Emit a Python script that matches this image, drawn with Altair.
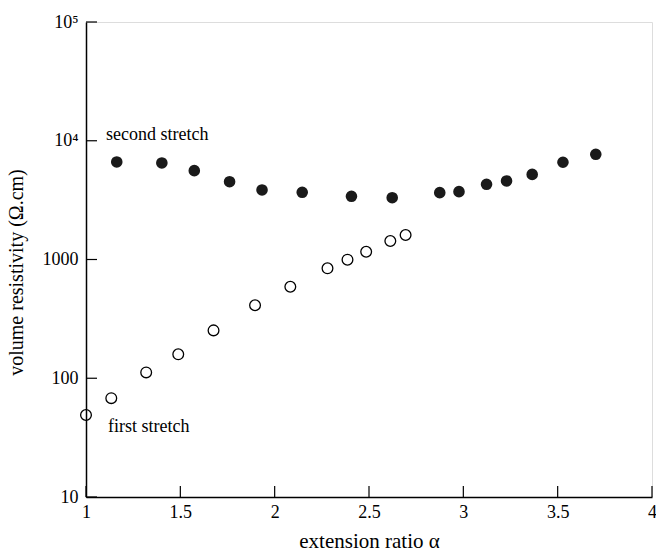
import altair as alt
import pandas as pd

# first stretch (open circles)
first_x = [1.0, 1.134, 1.319, 1.489, 1.676, 1.896, 2.083, 2.280, 2.386, 2.485, 2.613, 2.694]
first_y = [49, 68, 112, 159, 253, 412, 590, 843, 996, 1163, 1432, 1607]

# second stretch (filled circles)
second_x = [1.163, 1.402, 1.574, 1.761, 1.933, 2.146, 2.407, 2.623, 2.875, 2.977,
            3.123, 3.229, 3.365, 3.528, 3.702]
second_y = [6626, 6500, 5600, 4520, 3850, 3680, 3405, 3315, 3655, 3725,
            4300, 4585, 5210, 6590, 7690]

x_ticks = [1, 1.5, 2, 2.5, 3, 3.5, 4]
y_ticks = [10, 100, 1000, 10000, 100000]

label_text = ["second stretch", "first stretch"]
label_x = [1.106, 1.117]
label_y = [11190, 38.8]

FONT = "Liberation Serif"

first_df = pd.DataFrame({"x": first_x, "y": first_y})
second_df = pd.DataFrame({"x": second_x, "y": second_y})
labels_df = pd.DataFrame({"t": label_text, "x": label_x, "y": label_y})
xt_df = pd.DataFrame({"v": x_ticks})
yt_df = pd.DataFrame({"v": y_ticks})

xscale = alt.Scale(domain=[1, 4], nice=False, zero=False)
yscale = alt.Scale(type="log", domain=[10, 100000], nice=False)

xaxis = alt.Axis(
    title="extension ratio α", values=x_ticks, ticks=False, labelPadding=6,
    labelFlush=False, grid=False, labelFont=FONT, labelFontSize=18, format="~g",
    titleFont=FONT, titleFontSize=21, titleFontWeight="normal",
    titlePadding=9, domainColor="black", domainWidth=1.5, labelColor="black",
    titleColor="black",
)
yaxis = alt.Axis(
    title="volume resistivity (Ω.cm)", values=y_ticks, ticks=False, labelPadding=8,
    grid=False, labelFont=FONT, labelFontSize=18, titleFont=FONT, titleFontSize=20,
    titleFontWeight="normal", titlePadding=16, titleY=250, domainColor="black", domainWidth=1.5,
    labelColor="black", titleColor="black", labelFlush=False,
    labelExpr="datum.value == 10000 ? '10⁴' : datum.value == 100000 ? '10⁵' : format(datum.value, 'd')",
)

first = alt.Chart(first_df).mark_point(
    shape="circle", filled=False, color="black", size=115, strokeWidth=1.3, opacity=1
).encode(x=alt.X("x:Q", scale=xscale, axis=xaxis), y=alt.Y("y:Q", scale=yscale, axis=yaxis))

second = alt.Chart(second_df).mark_point(
    shape="circle", filled=True, color="#1a1a1a", size=135, opacity=1
).encode(x=alt.X("x:Q", scale=xscale), y=alt.Y("y:Q", scale=yscale))

labels = alt.Chart(labels_df).mark_text(
    align="left", baseline="middle", font=FONT, fontSize=18, color="black"
).encode(x=alt.X("x:Q", scale=xscale), y=alt.Y("y:Q", scale=yscale), text="t:N")

xticks = alt.Chart(xt_df).mark_rule(color="black", strokeWidth=1.2).encode(
    x=alt.X("v:Q", scale=xscale), y=alt.value(475), y2=alt.value(464)
)
yticks = alt.Chart(yt_df).mark_rule(color="black", strokeWidth=1.2).encode(
    y=alt.Y("v:Q", scale=yscale), x=alt.value(0), x2=alt.value(11)
)

chart = alt.layer(xticks, yticks, first, second, labels).properties(
    width=566, height=475,
    autosize=alt.AutoSizeParams(type="none"),
    padding={"left": 86, "top": 22, "right": 4, "bottom": 54},
).configure_view(stroke="black", strokeWidth=1.5).configure(background="white")

chart.save("out.html", embed_options={"renderer": "svg", "actions": False})
